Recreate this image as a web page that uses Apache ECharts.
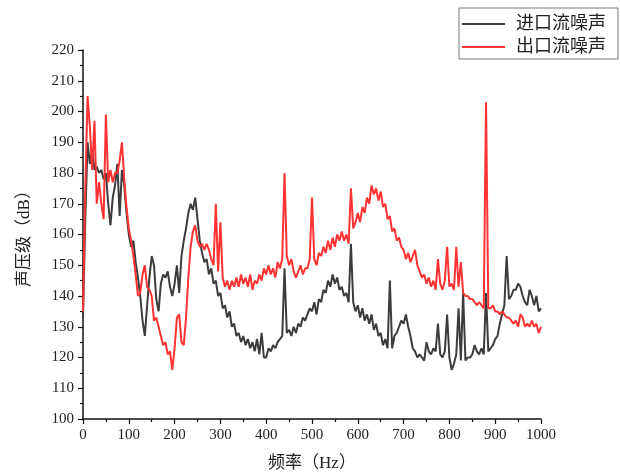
<!DOCTYPE html>
<html>
<head>
<meta charset="utf-8">
<script src="https://cdn.jsdelivr.net/npm/echarts@6/dist/echarts.min.js"></script>
<style>
  html, body { margin: 0; padding: 0; background: #fff; }
  #chart { width: 620px; height: 473px; }
</style>
</head>
<body>
<div id="chart"></div>
<script>
// Frequency grid (Hz)
const freqHz = [
  0, 5, 10, 15, 20, 25, 30, 35, 40, 45, 50, 55, 60, 65, 70, 75, 80, 85, 90, 95,
  100, 105, 110, 115, 120, 125, 130, 135, 140, 145, 150, 155, 160, 165, 170, 175, 180, 185, 190, 195,
  200, 205, 210, 215, 220, 225, 230, 235, 240, 245, 250, 255, 260, 265, 270, 275, 280, 285, 290, 295,
  300, 305, 310, 315, 320, 325, 330, 335, 340, 345, 350, 355, 360, 365, 370, 375, 380, 385, 390, 395,
  400, 405, 410, 415, 420, 425, 430, 435, 440, 445, 450, 455, 460, 465, 470, 475, 480, 485, 490, 495,
  500, 505, 510, 515, 520, 525, 530, 535, 540, 545, 550, 555, 560, 565, 570, 575, 580, 585, 590, 595,
  600, 605, 610, 615, 620, 625, 630, 635, 640, 645, 650, 655, 660, 665, 670, 675, 680, 685, 690, 695,
  700, 705, 710, 715, 720, 725, 730, 735, 740, 745, 750, 755, 760, 765, 770, 775, 780, 785, 790, 795,
  800, 805, 810, 815, 820, 825, 830, 835, 840, 845, 850, 855, 860, 865, 870, 875, 880, 885, 890, 895,
  900, 905, 910, 915, 920, 925, 930, 935, 940, 945, 950, 955, 960, 965, 970, 975, 980, 985, 990, 995,
  1000
];

// Inlet flow noise, sound pressure level (dB)
const inletLevel = [
  133, 165, 190, 183, 188, 181, 182, 180, 181, 178, 180, 170, 163, 172, 176, 183, 166, 181, 176, 167,
  160, 156, 158, 151, 146, 140, 132, 127, 137, 146, 153, 150, 139, 135, 144, 147, 146, 148, 143, 140,
  144, 150, 141, 153, 158, 162, 167, 170, 168, 172, 165, 158, 154, 151, 152, 147, 149, 144, 145, 140,
  141, 136, 137, 133, 135, 130, 131, 127, 128, 125, 127, 124, 126, 123, 125, 122, 126, 121, 128, 120,
  120, 123, 122, 124, 123, 125, 126, 127, 149, 128, 129, 127, 130, 128, 131, 130, 133, 132, 134, 136,
  135, 138, 134, 139, 138, 142, 141, 145, 143, 147, 144, 146, 142, 143, 140, 141, 138, 157, 138, 135,
  137, 133, 136, 132, 134, 131, 134, 129, 131, 127, 128, 124, 126, 123, 145, 123, 127, 128, 130, 132,
  131, 134, 130, 127, 123, 122, 120, 121, 120, 119, 125, 122, 121, 123, 122, 131, 121, 120, 122, 134,
  120, 116, 118, 121, 136, 119, 141, 119, 120, 120, 121, 124, 122, 121, 123, 121, 141, 122, 123, 124,
  126, 127, 131, 134, 137, 153, 139, 140, 142, 142, 144, 143, 140, 138, 137, 142, 140, 137, 140, 135,
  136
];

// Outlet flow noise, sound pressure level (dB)
const outletLevel = [
  135, 175, 205, 195, 181, 197, 170, 177, 170, 165, 199, 177, 181, 177, 180, 180, 184, 190, 178, 169,
  162, 158, 153, 147, 140, 141, 147, 150, 143, 142, 140, 132, 133, 130, 127, 124, 125, 121, 122, 116,
  123, 133, 134, 125, 124, 133, 146, 156, 161, 163, 158, 156, 157, 155, 157, 155, 152, 150, 170, 148,
  164, 146, 143, 145, 142, 145, 143, 146, 143, 147, 144, 146, 143, 147, 142, 145, 144, 147, 145, 149,
  147, 150, 147, 149, 146, 151, 149, 152, 180, 153, 150, 152, 148, 146, 148, 150, 147, 149, 149, 152,
  172, 152, 150, 154, 153, 156, 154, 158, 155, 159, 156, 160, 158, 161, 158, 160, 157, 175, 162, 164,
  167, 164, 169, 167, 172, 170, 176, 173, 175, 171, 174, 169, 170, 165, 166, 161, 162, 158, 159, 156,
  155, 152, 154, 151, 153, 155, 150, 148, 146, 147, 144, 146, 143, 145, 142, 152, 144, 142, 145, 156,
  143, 144, 142, 156, 143, 151, 141, 140, 140, 139, 139, 138, 137, 138, 137, 136, 203, 136, 136, 137,
  135, 135, 134, 135, 134, 133, 133, 132, 131, 132, 130, 134, 133, 130, 131, 130, 132, 130, 131, 128,
  130
];

const seriesNames = ['进口流噪声', '出口流噪声'];
const seriesColors = ['#3c3c3c', '#ff3333'];
const xAxisTitle = '频率（Hz）';
const yAxisTitle = '声压级（dB）';

const FONT = "'Liberation Serif', 'Noto Sans CJK SC', serif";

function pairs(levels) {
  return freqHz.map((f, i) => [f, levels[i]]);
}

const chart = echarts.init(document.getElementById('chart'), null, { renderer: 'canvas' });

chart.setOption({
  backgroundColor: '#ffffff',
  animation: false,
  grid: { left: 83, right: 79, top: 50, bottom: 54, containLabel: false, outerBoundsMode: 'none' },
  legend: {
    orient: 'vertical',
    left: 459,
    top: 8,
    padding: [6, 12, 2, 3],
    itemGap: 3,
    itemWidth: 43,
    itemHeight: 2,
    icon: 'rect',
    borderColor: '#777',
    borderWidth: 1,
    backgroundColor: '#fff',
    textStyle: { fontFamily: FONT, fontSize: 18, color: '#222', lineHeight: 20, padding: [0, 0, 0, 6] },
    data: seriesNames
  },
  xAxis: {
    type: 'value',
    min: 0,
    max: 1000,
    interval: 100,
    name: xAxisTitle,
    nameLocation: 'middle',
    nameGap: 36,
    nameTextStyle: { fontFamily: FONT, fontSize: 17, color: '#222' },
    axisLine: { show: true, onZero: false, lineStyle: { color: '#111', width: 1.5 } },
    axisTick: { show: true, length: 5, lineStyle: { color: '#111', width: 1.2 } },
    minorTick: { show: true, splitNumber: 2, length: 3, lineStyle: { color: '#111', width: 1.2 } },
    axisLabel: { fontFamily: FONT, fontSize: 15, color: '#222', margin: 9, formatter: v => String(v) },
    splitLine: { show: false }
  },
  yAxis: {
    type: 'value',
    min: 100,
    max: 220,
    interval: 10,
    name: yAxisTitle,
    nameLocation: 'middle',
    nameGap: 50,
    nameRotate: 90,
    nameTextStyle: { fontFamily: FONT, fontSize: 17, color: '#222' },
    axisLine: { show: true, onZero: false, lineStyle: { color: '#111', width: 1.5 } },
    axisTick: { show: true, length: 5, lineStyle: { color: '#111', width: 1.2 } },
    minorTick: { show: true, splitNumber: 2, length: 3, lineStyle: { color: '#111', width: 1.2 } },
    axisLabel: { fontFamily: FONT, fontSize: 15, color: '#222', margin: 9 },
    splitLine: { show: false }
  },
  series: [
    {
      name: seriesNames[0],
      type: 'line',
      data: pairs(inletLevel),
      showSymbol: false,
      symbol: 'none',
      color: seriesColors[0],
      lineStyle: { color: seriesColors[0], width: 2 }
    },
    {
      name: seriesNames[1],
      type: 'line',
      data: pairs(outletLevel),
      showSymbol: false,
      symbol: 'none',
      color: seriesColors[1],
      lineStyle: { color: seriesColors[1], width: 2 }
    }
  ]
});
</script>
</body>
</html>
